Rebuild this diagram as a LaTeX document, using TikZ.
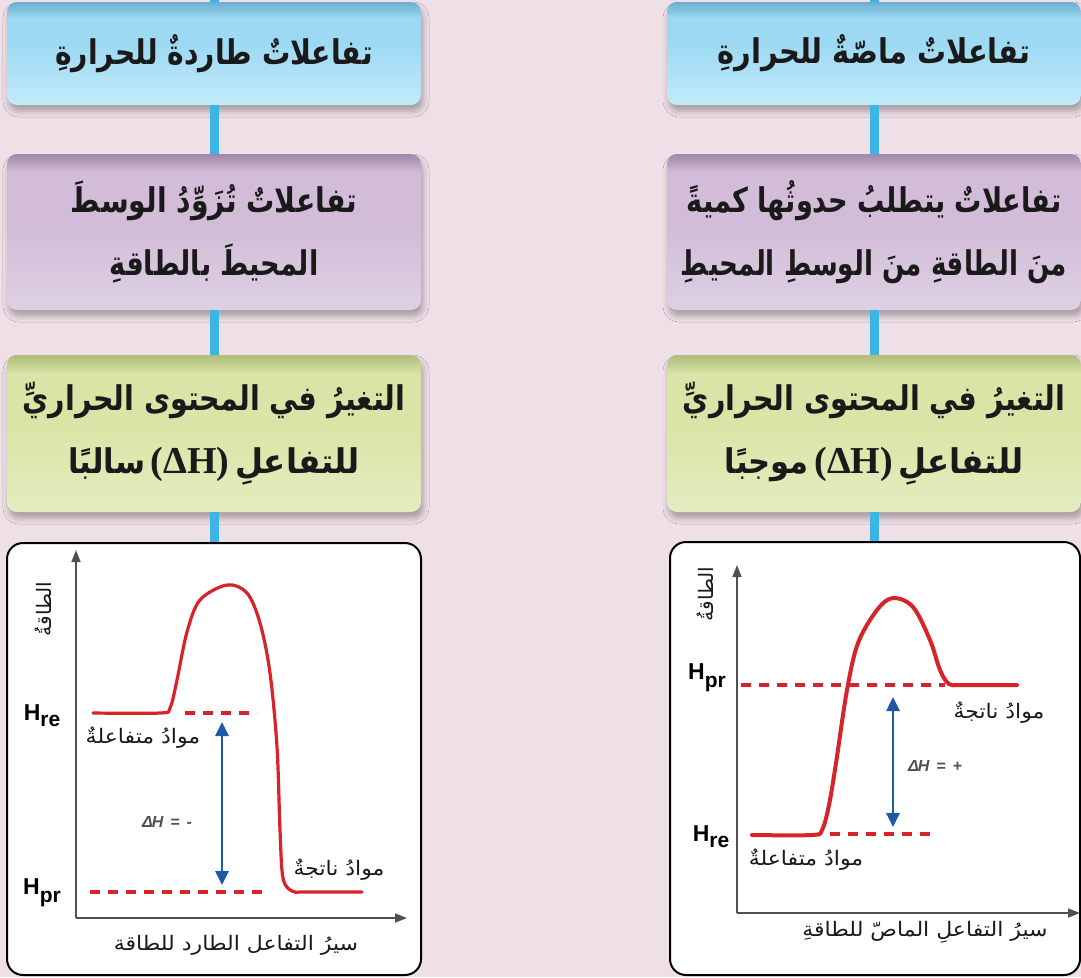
\documentclass[tikz,border=0pt]{standalone}
\usepackage{fontspec}
\usepackage{graphicx}
\usetikzlibrary{arrows.meta,shadows.blur}
\TeXXeTstate=1
\newfontfamily\ar[Script=Arabic]{DejaVu Sans}
\newfontfamily\lsans{Liberation Sans}
\newfontfamily\lserif{Liberation Serif}
\definecolor{bgpink}{HTML}{EFDFE6}
\definecolor{blueTop}{HTML}{6AAFD0}
\definecolor{blueMid}{HTML}{9DD9F3}
\definecolor{blueBot}{HTML}{C2EAF9}
\definecolor{purTop}{HTML}{9F88A8}
\definecolor{purMid}{HTML}{D2BCD8}
\definecolor{purBot}{HTML}{DED0E4}
\definecolor{grnTop}{HTML}{AEBC7C}
\definecolor{grnMid}{HTML}{D9E5A6}
\definecolor{grnBot}{HTML}{E4EDC0}
\definecolor{connblue}{HTML}{3AB5E5}
\definecolor{curvered}{HTML}{D8232A}
\definecolor{arrowblue}{HTML}{1E58A6}
\definecolor{textdark}{HTML}{1A1A1A}
\definecolor{axisgrey}{HTML}{505050}
\pgfdeclareverticalshading{blueshade}{100bp}{color(0bp)=(blueBot); color(25bp)=(blueBot); color(55bp)=(blueMid); color(67bp)=(blueMid); color(75bp)=(blueTop); color(100bp)=(blueTop)}
\pgfdeclareverticalshading{purshade}{100bp}{color(0bp)=(purBot); color(25bp)=(purBot); color(52bp)=(purMid); color(69bp)=(purMid); color(75bp)=(purTop); color(100bp)=(purTop)}
\pgfdeclareverticalshading{grnshade}{100bp}{color(0bp)=(grnBot); color(25bp)=(grnBot); color(52bp)=(grnMid); color(69bp)=(grnMid); color(75bp)=(grnTop); color(100bp)=(grnTop)}
\newcommand{\sqz}[2]{\scalebox{#1}[1]{#2}}
\begin{document}
\begin{tikzpicture}[x=1pt,y=-1pt,
  card/.style={rounded corners=10pt, minimum width=414pt, inner sep=0pt, align=center,
    text=textdark, font=\ar\bfseries\fontsize{34}{63}\selectfont,
    blur shadow={shadow xshift=2pt, shadow yshift=-6pt, shadow blur radius=6pt, shadow opacity=30}},
  bluecard/.style={card, minimum height=103pt, shading=blueshade},
  purcard/.style={card, minimum height=156pt, shading=purshade},
  grncard/.style={card, minimum height=157pt, shading=grnshade},
  conn/.style={line width=9pt, connblue},
  graphbox/.style={draw=black, line width=2pt, fill=white, rounded corners=16pt, inner sep=0pt},
  axis/.style={axisgrey, line width=1.6pt, -{Triangle[width=9pt,length=12pt]}},
  curve/.style={curvered, line width=3.2pt, line join=round, line cap=round},
  levdash/.style={curvered, line width=4pt, dash pattern=on 10pt off 8pt},
  dharrow/.style={arrowblue, line width=2.6pt, {Triangle[width=13pt,length=14pt]}-{Triangle[width=13pt,length=14pt]}},
  hlab/.style={font=\lsans\bfseries\fontsize{23}{23}\selectfont, text=black, inner sep=0pt},
  arlab/.style={font=\ar\fontsize{20}{20}\selectfont, text=textdark, inner sep=0pt},
  xlab/.style={font=\ar\fontsize{20}{20}\selectfont, text=textdark, inner sep=0pt},
  dhlab/.style={font=\lsans\itshape\bfseries\fontsize{16}{16}\selectfont, text=axisgrey, inner sep=0pt}
]
\fill[bgpink] (0,0) rectangle (1081,977);
\useasboundingbox (0,0) rectangle (1081,977);

% ---------- left column ----------
\node[bluecard] (L1) at (214,53.5) {\sqz{0.83}{\beginR تفاعلاتٌ طاردةٌ للحرارةِ\endR}};
\node[purcard] (L2) at (214,232) {\sqz{0.83}{\beginR تفاعلاتٌ تُزَوِّدُ الوسطَ\endR}\\ \sqz{0.8}{\beginR المحيطَ بالطاقةِ\endR}};
\node[grncard] (L3) at (214,433.5) {\sqz{0.84}{\beginR التغيرُ في المحتوى الحراريِّ\endR}\\
  \sqz{0.9}{\beginR سالبًا\endR}\,{\lserif\fontsize{38}{38}\selectfont (ΔH)}\,\sqz{0.95}{\beginR للتفاعلِ\endR}};
\node[graphbox, minimum width=414pt, minimum height=432pt] (LG) at (214,759) {};

% ---------- right column ----------
\node[bluecard] (R1) at (874,53.5) {\sqz{0.85}{\beginR تفاعلاتٌ ماصّةٌ للحرارةِ\endR}};
\node[purcard] (R2) at (874,232) {\sqz{0.8}{\beginR تفاعلاتٌ يتطلبُ حدوثُها كميةً\endR}\\ \sqz{0.77}{\beginR منَ الطاقةِ منَ الوسطِ المحيطِ\endR}};
\node[grncard] (R3) at (874,433.5) {\sqz{0.84}{\beginR التغيرُ في المحتوى الحراريِّ\endR}\\
  \sqz{0.9}{\beginR موجبًا\endR}\,{\lserif\fontsize{38}{38}\selectfont (ΔH)}\,\sqz{0.95}{\beginR للتفاعلِ\endR}};
\node[graphbox, minimum width=410pt, minimum height=433pt] (RG) at (875,758.5) {};

% ---------- connectors ----------
\coordinate (Ltop) at (214,0);
\coordinate (Rtop) at (874,0);
\draw[conn] (Ltop) -- (L1.north);
\draw[conn] (L1.south) -- (L2.north);
\draw[conn] (L2.south) -- (L3.north);
\draw[conn] (L3.south) -- (L3.south |- LG.north);
\draw[conn] (Rtop) -- (R1.north);
\draw[conn] (R1.south) -- (R2.north);
\draw[conn] (R2.south) -- (R3.north);
\draw[conn] (R3.south) -- (R3.south |- RG.north);

% ---------- left graph (exothermic) ----------
\draw[axis] (76,918) -- (76,550);
\draw[axis] (76,918) -- (407,918);
\draw[levdash] (185,713) -- (257,713);
\draw[levdash] (90,892) -- (265,892);
\draw[curve] plot[smooth, tension=0.55] coordinates {(93,713) (160,713) (170,708) (177,680) (187,632) (200,600) (227,585) (247,593) (260,623) (270,673) (277,747) (280,830) (283,878) (292,891) (305,892) (362,892)};
\draw[dharrow] (222,722) -- (222,885);
\node[hlab] (LHre) at (42,716) {H\raisebox{-6pt}{\fontsize{21}{21}\selectfont re}};
\node[hlab] (LHpr) at (42,893) {H\raisebox{-8pt}{\fontsize{21}{21}\selectfont pr}};
\node[dhlab] (LdH) at (167,822) {Δ\kern-1pt H\hspace{7pt}=\hspace{7pt}-};
\node[arlab] (Lreac) at (143,738) {\sqz{1.1}{\beginR موادُ متفاعلةٌ\endR}};
\node[arlab] (Lprod) at (339,870) {\sqz{1.1}{\beginR موادُ ناتجةٌ\endR}};
\node[arlab, rotate=90] (Lyl) at (43,609) {\beginR الطاقةُ\endR};
\node[xlab] (Lxl) at (236,945) {\sqz{1.1}{\beginR سيرُ التفاعل الطارد للطاقة\endR}};

% ---------- right graph (endothermic) ----------
\draw[axis] (737,913) -- (737,565);
\draw[axis] (737,913) -- (1080,913);
\draw[levdash] (741,685) -- (945,685);
\draw[levdash] (830,834) -- (930,834);
\draw[curve, line width=4pt] plot[smooth, tension=0.55] coordinates {(752,835) (812,835) (822,830) (829,805) (836,763) (847,690) (858,643) (877,610) (893,598) (913,607) (930,640) (940,670) (949,684) (962,685) (1017,685)};
\draw[dharrow] (893,697) -- (893,827);
\node[hlab] (RHpr) at (707,678) {H\raisebox{-8pt}{\fontsize{21}{21}\selectfont pr}};
\node[hlab] (RHre) at (711,837) {H\raisebox{-6pt}{\fontsize{21}{21}\selectfont re}};
\node[dhlab] (RdH) at (935,766) {Δ\kern-1pt H\hspace{7pt}=\hspace{7pt}+};
\node[arlab] (Rprod) at (999,713) {\sqz{1.1}{\beginR موادُ ناتجةٌ\endR}};
\node[arlab] (Rreac) at (806,860) {\sqz{1.1}{\beginR موادُ متفاعلةٌ\endR}};
\node[arlab, rotate=90] (Ryl) at (705,594) {\beginR الطاقةُ\endR};
\node[xlab] (Rxl) at (925,932) {\sqz{1.1}{\beginR سيرُ التفاعلِ الماصّ للطاقةِ\endR}};
\end{tikzpicture}
\end{document}
